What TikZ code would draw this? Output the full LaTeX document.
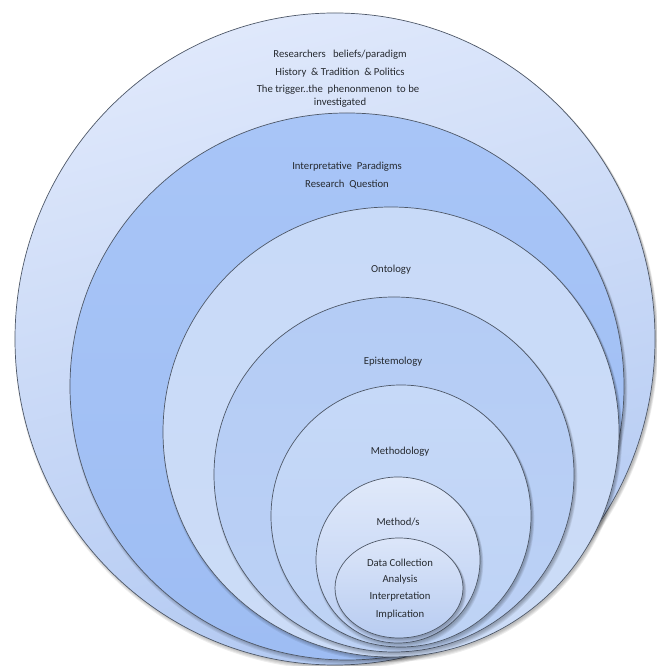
\documentclass[tikz,border=0pt]{standalone}
\usepackage{fontspec}
\setmainfont{Carlito}
\usetikzlibrary{calc}
\definecolor{ringline}{HTML}{4E5868}
\definecolor{labeltext}{HTML}{262A30}
\definecolor{ringA1}{HTML}{DFE8FB}
\definecolor{ringA2}{HTML}{B2C9F2}
\definecolor{ringB1}{HTML}{A8C5F7}
\definecolor{ringB2}{HTML}{9EBDF3}
\definecolor{ringC1}{HTML}{C8DAF8}
\definecolor{ringC2}{HTML}{CCDCF7}
\definecolor{ringD1}{HTML}{B4CCF5}
\definecolor{ringD2}{HTML}{BCD1F5}
\definecolor{ringE1}{HTML}{C6D9F8}
\definecolor{ringE2}{HTML}{BDD2F5}
\definecolor{ringF1}{HTML}{E0E9FA}
\definecolor{ringF2}{HTML}{BACEF3}
\definecolor{ringG1}{HTML}{DCE6F9}
\definecolor{ringG2}{HTML}{B8CCF1}
\begin{document}
\begin{tikzpicture}[x=1pt,y=1pt,
  ring/.style={draw=ringline, line width=0.7pt},
  lbl/.style={font=\fontsize{10.7}{12}\selectfont, text=labeltext, inner sep=0pt}]
% canvas
\fill[white] (0,0) rectangle (656,666);
\useasboundingbox (0,0) rectangle (656,666);

% soft shadow under a ring: #1 centre, #2 x radius, #3 y radius
\newcommand{\ringshadow}[3]{%
  \foreach \k in {0,1,2,3}{%
    \fill[black, opacity=0.07] ($#1+(1.5,-1.5-0.5*\k)$) ellipse [x radius=#2+0.6*\k, y radius=#3+0.6*\k];
  }%
}

% nested rings, outermost first
\ringshadow{(335,327)}{320}{326}
\path[ring, top color=ringA1, bottom color=ringA2, shading angle=15] (335,327) ellipse [x radius=320, y radius=326];
\ringshadow{(347,279.5)}{277}{273.5}
\path[ring, top color=ringB1, bottom color=ringB2] (347,279.5) ellipse [x radius=277, y radius=273.5];
\ringshadow{(391,234)}{228}{225}
\path[ring, top color=ringC1, bottom color=ringC2] (391,234) ellipse [x radius=228, y radius=225];
\ringshadow{(394,191.5)}{180}{177.5}
\path[ring, top color=ringD1, bottom color=ringD2] (394,191.5) ellipse [x radius=180, y radius=177.5];
\ringshadow{(401,150)}{130}{131}
\path[ring, top color=ringE1, bottom color=ringE2] (401,150) ellipse [x radius=130, y radius=131];
\ringshadow{(398,106)}{82}{83}
\path[ring, top color=ringF1, bottom color=ringF2] (398,106) ellipse [x radius=82, y radius=83];
\ringshadow{(399,78)}{64}{50}
\path[ring, top color=ringG1, bottom color=ringG2] (399,78) ellipse [x radius=64, y radius=50];

% labels
\node[lbl] (beliefs)  at (340,611) {Researchers\ \ \ beliefs/paradigm};
\node[lbl] (history)  at (340,593) {History\ \ \& Tradition\ \ \& Politics};
\node[lbl] (trigger)  at (338,576) {The trigger..the\ \ phenonmenon\ \ to be};
\node[lbl] (invest)   at (340,563) {investigated};
\node[lbl] (interp)   at (347,499) {Interpretative\ \ Paradigms};
\node[lbl] (question) at (347,481) {Research\ \ Question};
\node[lbl] (onto)     at (391,396) {Ontology};
\node[lbl] (episte)   at (393,304) {Epistemology};
\node[lbl] (methlogy) at (400,214) {Methodology};
\node[lbl] (methods)  at (398,144) {Method/s};
\node[lbl] (datacoll) at (400,103) {Data Collection};
\node[lbl] (analysis) at (400,86)  {Analysis};
\node[lbl] (interpr)  at (400,69)  {Interpretation};
\node[lbl] (implic)   at (400,51)  {Implication};
\end{tikzpicture}
\end{document}
